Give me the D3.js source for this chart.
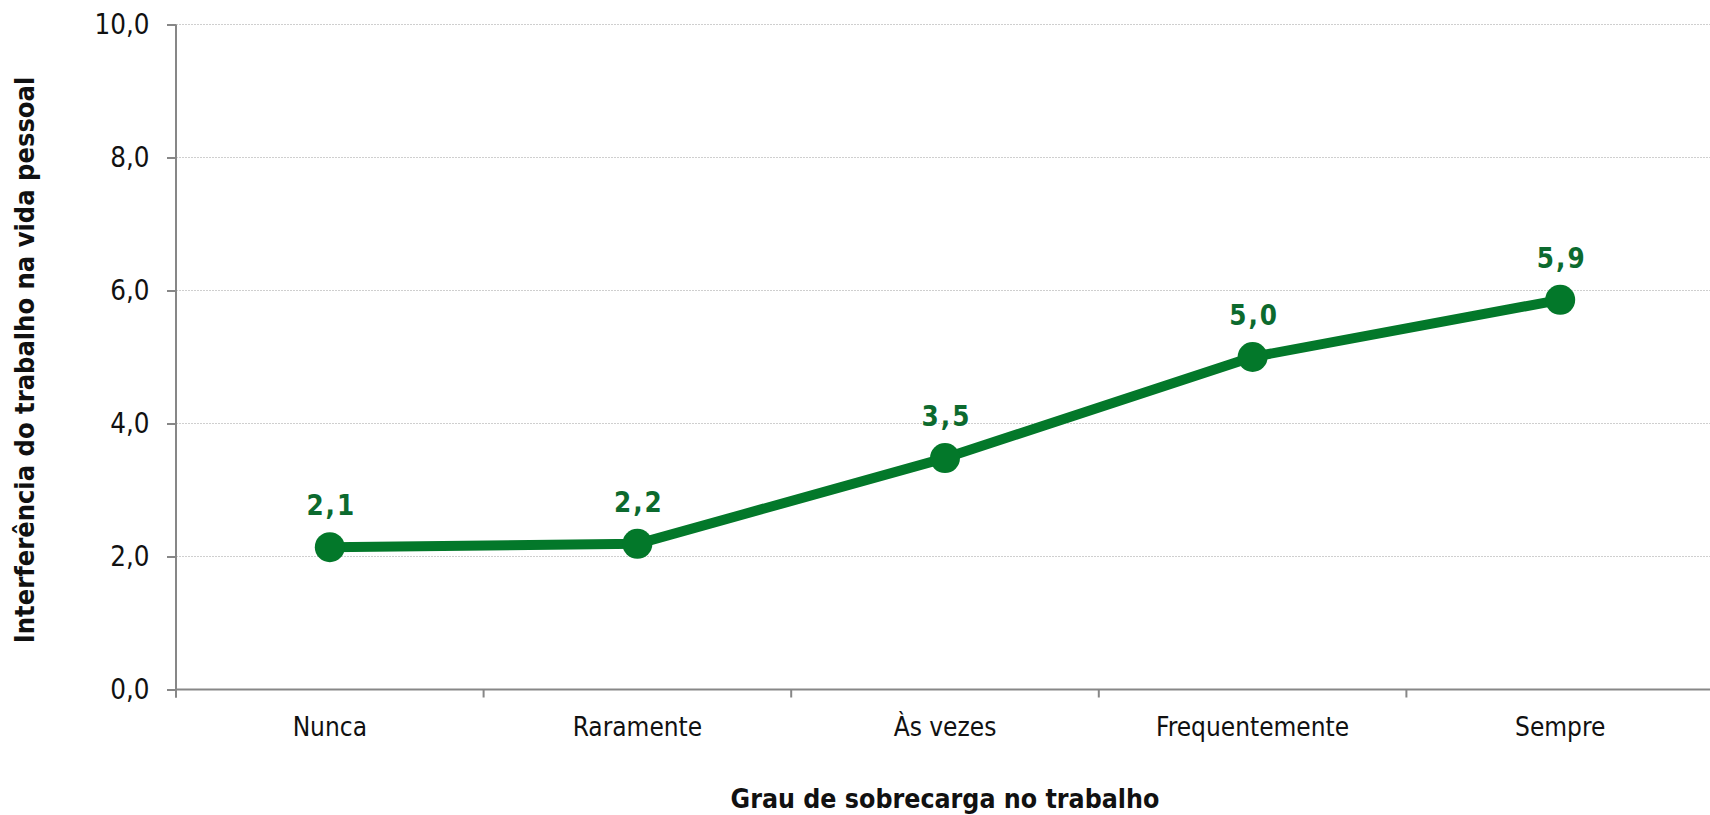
<!DOCTYPE html>
<html lang="pt">
<head>
<meta charset="utf-8">
<script src="https://cdn.jsdelivr.net/npm/d3@7"></script>
<style>
  html, body { margin: 0; padding: 0; background: #fff; }
  svg { display: block; }
  text { font-family: "DejaVu Sans Condensed", "DejaVu Sans", sans-serif; font-stretch: condensed; }
</style>
</head>
<body>
<svg id="chart" width="1710" height="815"></svg>
<script>
// Work-overload frequency categories and mean interference scores
const categories = ["Nunca", "Raramente", "Às vezes", "Frequentemente", "Sempre"];
const values = [2.14, 2.19, 3.48, 5.0, 5.86];
const yTicks = [0, 2, 4, 6, 8, 10];
const xTitle = "Grau de sobrecarga no trabalho";
const yTitle = "Interferência do trabalho na vida pessoal";

const ptBR = d3.formatLocale({ decimal: ",", thousands: ".", grouping: [3], currency: ["R$", ""] });
const fmt = ptBR.format(".1f");

const svg = d3.select("#chart");
const margin = { left: 176, right: -4, top: 24.5, bottom: 125.5 };
const W = 1710, H = 815;

const x = d3.scaleBand().domain(categories).range([margin.left, W - margin.right]).padding(0);
const y = d3.scaleLinear().domain([0, 10]).range([H - margin.bottom, margin.top]);

const lineColor = "#03782a";
const labelColor = "#0c6a2e";
const axisColor = "#878787";

// Horizontal gridlines
svg.append("g")
  .selectAll("line")
  .data(yTicks.filter(d => d > 0))
  .join("line")
  .attr("x1", margin.left).attr("x2", W)
  .attr("y1", d => y(d)).attr("y2", d => y(d))
  .attr("stroke", "#cfcfcf")
  .attr("stroke-width", 1)
  .attr("stroke-dasharray", "2,1");

// Y axis
const yAxis = svg.append("g")
  .attr("transform", `translate(${margin.left},0)`)
  .call(d3.axisLeft(y).tickValues(yTicks).tickSize(9).tickPadding(17.5).tickFormat(fmt));
yAxis.select(".domain").attr("stroke", axisColor).attr("stroke-width", 2)
  .attr("d", `M0,${y(10)}V${y(0) + 8}`);
yAxis.selectAll(".tick line").attr("stroke", axisColor).attr("stroke-width", 2);
yAxis.selectAll(".tick text").attr("font-size", 27.5).attr("fill", "#111")
  .attr("font-family", "\"DejaVu Sans Condensed\", \"DejaVu Sans\", sans-serif");

// X axis with ticks at category boundaries
const xAxis = svg.append("g")
  .attr("transform", `translate(0,${y(0)})`)
  .call(d3.axisBottom(x).tickSize(0).tickPadding(28));
xAxis.select(".domain").attr("stroke", axisColor).attr("stroke-width", 2)
  .attr("d", `M${margin.left},0H${W - margin.right}`);
xAxis.selectAll(".tick text").attr("font-size", 26).attr("fill", "#111")
  .attr("font-family", "\"DejaVu Sans Condensed\", \"DejaVu Sans\", sans-serif");
const bounds = categories.map(c => x(c)).concat([x.range()[1]]);
xAxis.append("g")
  .selectAll("line")
  .data(bounds)
  .join("line")
  .attr("x1", d => d).attr("x2", d => d)
  .attr("y1", 0).attr("y2", 8)
  .attr("stroke", axisColor).attr("stroke-width", 2);

// Axis titles
svg.append("text")
  .attr("x", (x.range()[0] + x.range()[1]) / 2)
  .attr("y", 808)
  .attr("text-anchor", "middle")
  .attr("font-size", 26.5)
  .attr("font-weight", "bold")
  .attr("fill", "#111")
  .text(xTitle);

svg.append("text")
  .attr("transform", `translate(34,${(y(0) + y(10)) / 2 + 3}) rotate(-90)`)
  .attr("text-anchor", "middle")
  .attr("font-size", 27)
  .attr("font-weight", "bold")
  .attr("fill", "#111")
  .text(yTitle);

// Series line, markers and value labels
const cx = c => x(c) + x.bandwidth() / 2;
const data = categories.map((c, i) => ({ c, v: values[i] }));

svg.append("path")
  .datum(data)
  .attr("fill", "none")
  .attr("stroke", lineColor)
  .attr("stroke-width", 10)
  .attr("stroke-linejoin", "round")
  .attr("d", d3.line().x(d => cx(d.c)).y(d => y(d.v)));

svg.append("g")
  .selectAll("circle")
  .data(data)
  .join("circle")
  .attr("cx", d => cx(d.c))
  .attr("cy", d => y(d.v))
  .attr("r", 15)
  .attr("fill", lineColor);

svg.append("g")
  .selectAll("text")
  .data(data)
  .join("text")
  .attr("x", d => cx(d.c) + 1.5)
  .attr("y", d => y(d.v) - 32)
  .attr("text-anchor", "middle")
  .attr("font-size", 27.5)
  .attr("font-weight", "bold")
  .attr("letter-spacing", 2)
  .attr("fill", labelColor)
  .text(d => fmt(d.v));
</script>
</body>
</html>
